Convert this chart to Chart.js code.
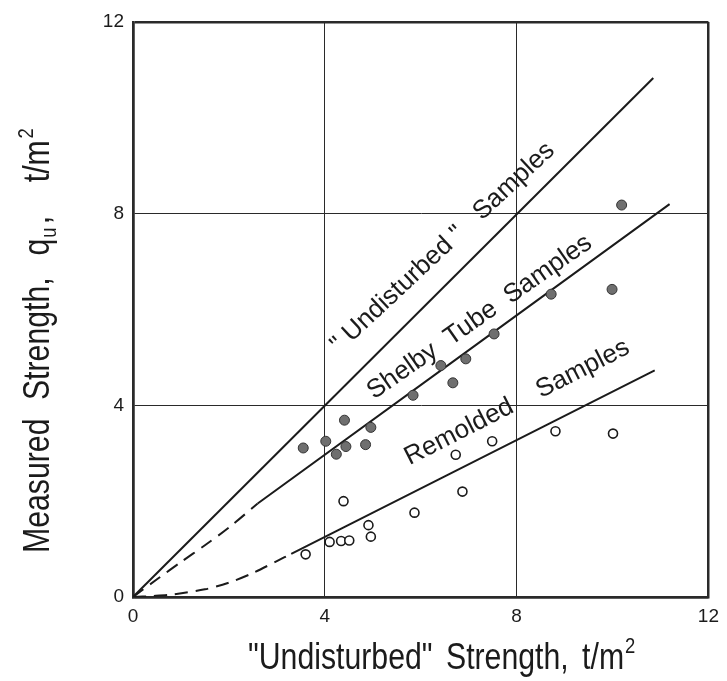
<!DOCTYPE html>
<html>
<head>
<meta charset="utf-8">
<script src="https://cdn.jsdelivr.net/npm/chart.js"></script>
<style>
  html, body { margin: 0; padding: 0; background: #fff; }
</style>
</head>
<body>
<canvas id="strengthChart" width="727" height="681"></canvas>
<script>
// data (t/m2)
const shelbyX = [3.55, 4.02, 4.41, 4.24, 4.44, 4.85, 4.96, 5.84, 6.42, 6.67, 6.94, 7.53, 8.72, 9.99, 10.19];
const shelbyY = [3.11, 3.25, 3.69, 2.98, 3.14, 3.18, 3.54, 4.21, 4.83, 4.47, 4.97, 5.49, 6.32, 6.42, 8.18];

const remoldedX = [3.60, 4.10, 4.34, 4.51, 4.96, 4.91, 4.39, 5.87, 6.87, 6.73, 7.49, 8.81, 10.01];
const remoldedY = [0.89, 1.15, 1.17, 1.18, 1.26, 1.50, 2.00, 1.76, 2.20, 2.97, 3.25, 3.46, 3.41];

// trend lines
const undisturbedLineX = [0, 10.85];
const undisturbedLineY = [0, 10.83];

const shelbyDashX = [0, 0.5, 1, 1.5, 2, 2.6];
const shelbyDashY = [0, 0.37, 0.73, 1.08, 1.45, 1.95];
const shelbyLineX = [2.6, 11.19];
const shelbyLineY = [1.95, 8.2];

const remoldedDashX = [0, 0.4, 0.8, 1.5, 2.0, 2.5, 3.0, 3.3];
const remoldedDashY = [0, 0.02, 0.05, 0.16, 0.3, 0.5, 0.75, 0.9];
const remoldedLineX = [3.3, 10.88];
const remoldedLineY = [0.9, 4.73];

const tickValues = [0, 4, 8, 12];

const zip = (xs, ys) => xs.map((x, i) => ({ x: x, y: ys[i] }));

const ink = '#1b1b1b';
const letterFont = '"Liberation Sans", Arial, sans-serif';

function trend(label, xs, ys, dashed) {
  return {
    type: 'line',
    label: label,
    data: zip(xs, ys),
    borderColor: ink,
    borderWidth: 2,
    borderDash: dashed ? [13, 8] : [],
    pointRadius: 0,
    tension: 0.3,
    fill: false,
    order: 2
  };
}

// rotated labels along the lines
const lineNotes = {
  id: 'lineNotes',
  afterDatasetsDraw(chart) {
    const { ctx, scales: { x, y } } = chart;
    const notes = [
      { text: '" Undisturbed "   Samples', x: 6.46, y: 7.29, angle: 43 },
      { text: 'Shelby  Tube  Samples', x: 7.23, y: 5.84, angle: 35 },
      { text: 'Remolded    Samples', x: 8.01, y: 4.06, angle: 27 }
    ];
    ctx.save();
    ctx.font = '26px ' + letterFont;
    ctx.fillStyle = ink;
    ctx.textAlign = 'center';
    ctx.textBaseline = 'middle';
    notes.forEach(n => {
      ctx.save();
      ctx.translate(x.getPixelForValue(n.x), y.getPixelForValue(n.y));
      ctx.rotate(-n.angle * Math.PI / 180);
      ctx.fillText(n.text, 0, 0);
      ctx.restore();
    });
    ctx.restore();
  }
};

// axis titles in narrow lettering, with the sub/superscripts
function drawRun(ctx, parts) {
  let pos = 0;
  parts.forEach(p => {
    pos += p.gap || 0;
    ctx.font = (p.size || 36) + 'px ' + letterFont;
    ctx.fillText(p.text, pos, p.dy || 0);
    pos += ctx.measureText(p.text).width;
  });
}

const axisTitles = {
  id: 'axisTitles',
  afterDraw(chart) {
    const { ctx } = chart;
    ctx.save();
    ctx.fillStyle = ink;
    ctx.textBaseline = 'alphabetic';
    ctx.textAlign = 'left';

    ctx.save();
    ctx.translate(248, 669);
    ctx.scale(0.84, 1);
    drawRun(ctx, [
      { text: '"Undisturbed"' },
      { text: 'Strength,', gap: 16 },
      { text: 't/m', gap: 16 },
      { text: '2', size: 22, dy: -16, gap: 1 }
    ]);
    ctx.restore();

    ctx.save();
    ctx.translate(49, 553);
    ctx.rotate(-Math.PI / 2);
    ctx.scale(0.84, 1);
    drawRun(ctx, [
      { text: 'Measured' },
      { text: 'Strength,', gap: 22 },
      { text: 'q', gap: 26 },
      { text: 'u', size: 22, dy: 7, gap: 1 },
      { text: ',', gap: 4 },
      { text: 't/m', gap: 40 },
      { text: '2', size: 22, dy: -16, gap: 2 }
    ]);
    ctx.restore();

    ctx.restore();
  }
};

const edgeWidth = (ctx) => (ctx.tick && (ctx.tick.value === 0 || ctx.tick.value === 12)) ? 2.5 : 1;

const config = {
  type: 'scatter',
  data: {
    datasets: [
      {
        label: 'Shelby Tube',
        data: zip(shelbyX, shelbyY),
        pointRadius: 5,
        pointBackgroundColor: '#6f6f6f',
        pointBorderColor: '#333',
        pointBorderWidth: 1,
        order: 0
      },
      {
        label: 'Remolded',
        data: zip(remoldedX, remoldedY),
        pointRadius: 4.5,
        pointBackgroundColor: '#fff',
        pointBorderColor: ink,
        pointBorderWidth: 1.6,
        order: 0
      },
      trend('Undisturbed line', undisturbedLineX, undisturbedLineY, false),
      trend('Shelby dashed', shelbyDashX, shelbyDashY, true),
      trend('Shelby line', shelbyLineX, shelbyLineY, false),
      trend('Remolded dashed', remoldedDashX, remoldedDashY, true),
      trend('Remolded line', remoldedLineX, remoldedLineY, false)
    ]
  },
  options: {
    responsive: false,
    animation: false,
    layout: { padding: { top: 22, right: 14, left: 0, bottom: 0 } },
    plugins: {
      legend: { display: false },
      tooltip: { enabled: false }
    },
    scales: {
      x: {
        type: 'linear',
        min: 0,
        max: 12,
        afterBuildTicks: (s) => { s.ticks = tickValues.map(v => ({ value: v })); },
        afterFit: (s) => { s.height = 84; },
        ticks: { color: ink, padding: 8, font: { family: letterFont, size: 19 } },
        grid: { color: '#2a2a2a', lineWidth: edgeWidth, drawTicks: false },
        border: { display: true, color: '#2a2a2a', width: 2.5 },
        title: { display: false }
      },
      y: {
        type: 'linear',
        min: 0,
        max: 12,
        afterBuildTicks: (s) => { s.ticks = tickValues.map(v => ({ value: v })); },
        afterFit: (s) => { s.width = 133; },
        ticks: { color: ink, padding: 9, font: { family: letterFont, size: 19 } },
        grid: { color: '#2a2a2a', lineWidth: edgeWidth, drawTicks: false },
        border: { display: true, color: '#2a2a2a', width: 2.5 },
        title: { display: false }
      }
    }
  },
  plugins: [lineNotes, axisTitles]
};

const strengthChart = new Chart(
  document.getElementById('strengthChart'),
  config
);
</script>
</body>
</html>
